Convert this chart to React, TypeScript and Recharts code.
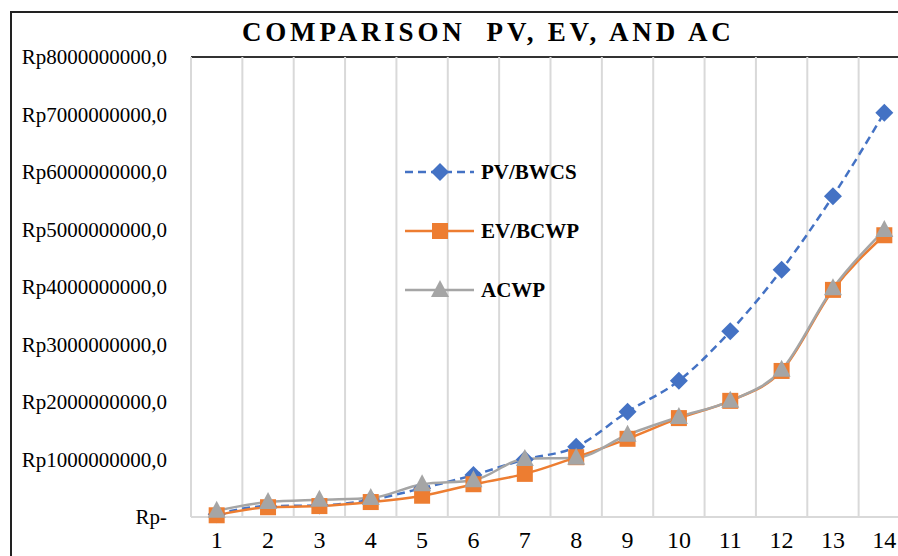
import { LineChart, Line, XAxis, YAxis, ReferenceLine, Legend } from 'recharts'

const periods = [1, 2, 3, 4, 5, 6, 7, 8, 9, 10, 11, 12, 13, 14]
const pvValues = [0.05e9, 0.19e9, 0.2e9, 0.3e9, 0.5e9, 0.73e9, 1.0e9, 1.22e9, 1.83e9, 2.37e9, 3.23e9, 4.3e9, 5.58e9, 7.03e9]
const evValues = [0.03e9, 0.17e9, 0.19e9, 0.26e9, 0.37e9, 0.57e9, 0.75e9, 1.04e9, 1.36e9, 1.72e9, 2.02e9, 2.54e9, 3.95e9, 4.9e9]
const acValues = [0.11e9, 0.26e9, 0.3e9, 0.33e9, 0.57e9, 0.64e9, 1.01e9, 1.03e9, 1.43e9, 1.74e9, 2.02e9, 2.56e9, 3.98e9, 4.99e9]
const yTicks = [0, 1e9, 2e9, 3e9, 4e9, 5e9, 6e9, 7e9, 8e9]

const BLUE = '#4472C4'
const ORANGE = '#ED7D31'
const GRAY = '#A5A5A5'
const FONT = '"Liberation Serif", "Times New Roman", serif'

const data = periods.map((p, i) => ({ period: p, pv: pvValues[i], ev: evValues[i], ac: acValues[i] }))
const boundaries = [0, ...periods].map((p) => p + 0.5)

const formatRp = (v: number) => (v === 0 ? 'Rp-' : `Rp${v},0`)

function Diamond({ cx, cy, fill }: { cx: number; cy: number; fill: string }) {
  const r = 9
  return <polygon points={`${cx},${cy - r} ${cx + r},${cy} ${cx},${cy + r} ${cx - r},${cy}`} fill={fill} />
}

function Square({ cx, cy, fill }: { cx: number; cy: number; fill: string }) {
  return <rect x={cx - 8} y={cy - 8} width={16} height={16} fill={fill} />
}

function Triangle({ cx, cy, fill }: { cx: number; cy: number; fill: string }) {
  return <polygon points={`${cx},${cy - 10} ${cx + 9},${cy + 7} ${cx - 9},${cy + 7}`} fill={fill} />
}

const legendItems = [
  { name: 'PV/BWCS', color: BLUE, dash: '8 5', Marker: Diamond },
  { name: 'EV/BCWP', color: ORANGE, dash: undefined, Marker: Square },
  { name: 'ACWP', color: GRAY, dash: undefined, Marker: Triangle },
]

function LegendBox() {
  return (
    <svg width={200} height={150}>
      {legendItems.map((it, i) => {
        const y = 17 + i * 59
        return (
          <g key={it.name}>
            <line x1={0} x2={69} y1={y} y2={y} stroke={it.color} strokeWidth={2.5} strokeDasharray={it.dash} />
            <it.Marker cx={35} cy={y} fill={it.color} />
            <text x={76} y={y + 7} fontFamily={FONT} fontWeight="bold" fontSize={21} fill="#000">
              {it.name}
            </text>
          </g>
        )
      })}
    </svg>
  )
}

export default function App() {
  const yTick = { fontFamily: FONT, fontSize: 21, fill: '#000' }
  const xTick = { fontFamily: FONT, fontSize: 24, fill: '#000' }
  return (
    <div style={{ position: 'fixed', left: 0, top: 0, width: 898, height: 556, overflow: 'hidden', background: '#fff' }}>
      <div style={{ position: 'absolute', left: 10, top: 11, width: 1000, height: 1000, borderLeft: '2px solid #222', borderTop: '2px solid #222' }} />
      <div style={{ position: 'absolute', left: 191, top: 56, width: 800, height: 0, borderTop: '2px solid #333' }} />
      <div
        style={{
          position: 'absolute', left: 242, top: 17, fontFamily: FONT, fontWeight: 'bold',
          fontSize: 27, letterSpacing: 3.8, whiteSpace: 'pre', color: '#000',
        }}
      >
        {'COMPARISON  PV, EV, AND AC'}
      </div>
      <div style={{ position: 'absolute', left: 0, top: 0 }}>
        <LineChart width={920} height={556} data={data} margin={{ top: 57, right: 10, bottom: 0, left: 0 }}>
          {boundaries.map((b) => (
            <ReferenceLine key={b} x={b} stroke="#d9d9d9" strokeWidth={2} ifOverflow="visible" />
          ))}
          <XAxis
            dataKey="period" type="number" domain={[0.5, 14.5]} ticks={periods} height={39}
            tickLine={false} tickSize={0} tickMargin={14} axisLine={{ stroke: '#d9d9d9', strokeWidth: 2 }}
            tick={xTick} interval={0} allowDataOverflow
          />
          <YAxis
            type="number" domain={[0, 8e9]} ticks={yTicks} width={191} tickFormatter={formatRp}
            tickLine={false} tickSize={0} tickMargin={24} axisLine={false} tick={yTick} interval={0}
          />
          <Legend
            layout="vertical" align="center" verticalAlign="middle"
            wrapperStyle={{ position: 'absolute', left: 405, top: 155, width: 200 }}
            content={() => <LegendBox />}
          />
          <Line
            dataKey="pv" type="monotone" stroke={BLUE} strokeWidth={2.5} strokeDasharray="8 5"
            isAnimationActive={false}
            dot={(p: any) => <Diamond key={`pv${p.index}`} cx={p.cx} cy={p.cy} fill={BLUE} />}
          />
          <Line
            dataKey="ev" type="monotone" stroke={ORANGE} strokeWidth={2.5}
            isAnimationActive={false}
            dot={(p: any) => <Square key={`ev${p.index}`} cx={p.cx} cy={p.cy} fill={ORANGE} />}
          />
          <Line
            dataKey="ac" type="monotone" stroke={GRAY} strokeWidth={2.5}
            isAnimationActive={false}
            dot={(p: any) => <Triangle key={`ac${p.index}`} cx={p.cx} cy={p.cy} fill={GRAY} />}
          />
        </LineChart>
      </div>
    </div>
  )
}
